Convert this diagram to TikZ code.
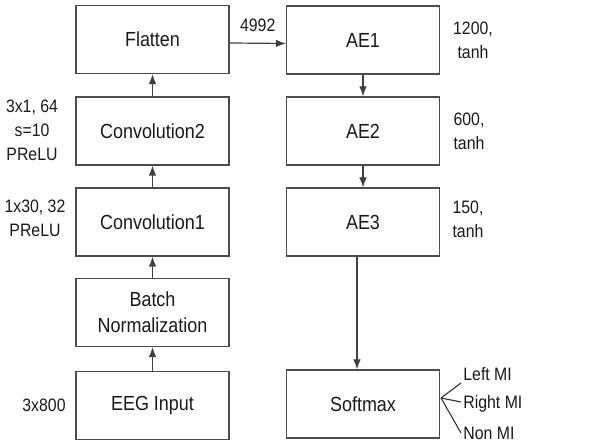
\documentclass[tikz,border=0pt]{standalone}
\usepackage{fontspec}
\setmainfont{Liberation Sans}[FakeStretch=0.88]
\usepackage{tikz}
\usetikzlibrary{shapes,arrows.meta,positioning}
\tikzstyle{block} = [draw, color=black!70, line width=0.6pt, text=black!90, minimum width=76.5pt, minimum height=34pt, inner sep=0pt, align=center, font=\fontsize{10.2}{13}\selectfont]
\tikzstyle{arrow} = [draw, line width=0.6pt, color=black!75, -{Latex[length=5pt,width=3.8pt]}]
\tikzstyle{line} = [draw, line width=0.55pt, color=black!80, -]
\tikzstyle{info} = [align=center, inner sep=1pt, text=black!90, font=\fontsize{9}{12}\selectfont]

\begin{document}
\begin{tikzpicture} [x=0.5pt, y=-0.5pt]

  \useasboundingbox (0,0) rectangle (616,442);

  % feature extraction column
  \node[block] (flatten) at (152.5,39.5) {Flatten};
  \node[block] (conv2) at (152.5,131) {Convolution2};
  \node[block] (conv1) at (152.5,222) {Convolution1};
  \node[block] (bnorm) at (152.5,312.5) {Batch\\Normalization};
  \node[block] (eeg) at (152.5,405.5) {EEG Input};

  % autoencoder column
  \node[block] (ae1) at (363,40) {AE1};
  \node[block] (ae2) at (363,131) {AE2};
  \node[block] (ae3) at (363,222) {AE3};
  \node[block] (softmax) at (363,404) {Softmax};

  \path[arrow] (eeg) -- (bnorm);
  \path[arrow] (bnorm) -- (conv1);
  \path[arrow] (conv1) -- (conv2);
  \path[arrow] (conv2) -- (flatten);
  \path[arrow] ([yshift=-1.75pt]flatten.east) -- node[info, above=4.5pt] {4992} ([yshift=-1.75pt]ae1.west);
  \path[arrow] (ae1) -- (ae2);
  \path[arrow] (ae2) -- (ae3);
  \path[arrow] ([xshift=-3pt]ae3.south) -- ([xshift=-3pt]softmax.north);

  % layer parameters
  \node[info] at (32,130) {3x1, 64\\s=10\\PReLU};
  \node[info] at (35,218) {1x30, 32\\PReLU};
  \node[info] at (44,405) {3x800};
  \node[info] at (473,40) {1200,\\tanh};
  \node[info] at (469,131) {600,\\tanh};
  \node[info] at (468,219) {150,\\tanh};

  % class outputs
  \coordinate (fork) at (441,398);
  \node[info, anchor=west] (leftmi) at (461,374) {Left MI};
  \node[info, anchor=west] (rightmi) at (461,404) {Right MI};
  \node[info, anchor=west] (nonmi) at (461,433) {Non MI};
  \path[line] (fork) -- (leftmi.south west);
  \path[line] (fork) -- ([yshift=1pt]rightmi.west);
  \path[line] (fork) -- (nonmi.west);

\end{tikzpicture}
\end{document}
